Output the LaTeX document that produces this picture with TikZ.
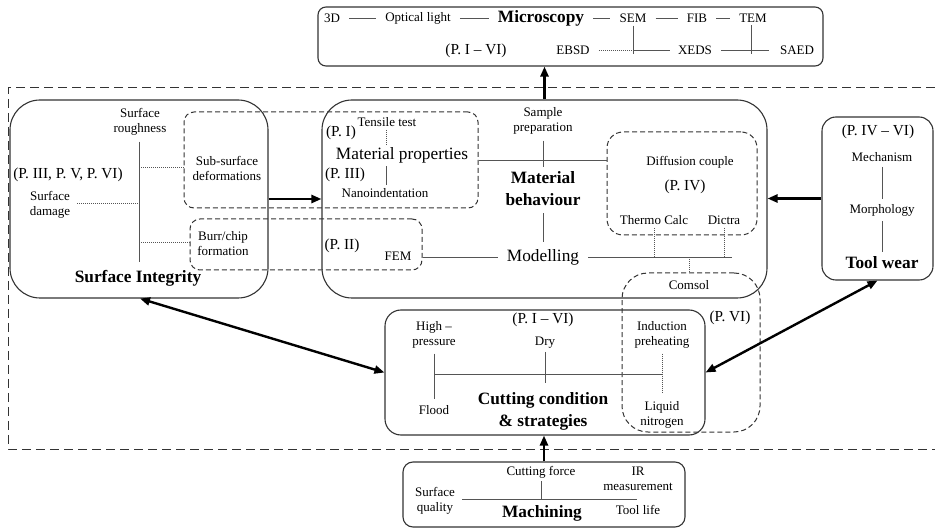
\documentclass[tikz,border=0pt]{standalone}
\usepackage{fontspec}
\setmainfont{Liberation Serif}
\usetikzlibrary{arrows.meta}
\definecolor{boxc}{HTML}{333333}
\definecolor{linec}{HTML}{555555}
\newcommand{\smf}{\fontsize{13}{15}\selectfont}
\newcommand{\plf}{\fontsize{15.3}{17}\selectfont}
\newcommand{\mdf}{\fontsize{17.3}{20}\selectfont}
\newcommand{\bgf}{\fontsize{17.3}{22}\selectfont\bfseries}
\tikzset{
  box/.style={draw=boxc, line width=1.1pt, rounded corners=#1, inner sep=0pt},
  dbox/.style={draw=boxc, line width=1pt, dash pattern=on 5pt off 3pt, rounded corners=#1, inner sep=0pt},
  txt/.style={font=\smf, align=center, inner sep=3pt, text=black},
  ptxt/.style={font=\plf, align=center, inner sep=3pt, text=black},
  mtxt/.style={font=\mdf, align=center, inner sep=3pt, text=black},
  btxt/.style={font=\bgf, align=center, inner sep=3pt, text=black},
  conn/.style={draw=linec, line width=0.8pt},
  gapc/.style={draw=linec, line width=0.8pt, shorten <=6pt, shorten >=6pt},
  dotc/.style={draw=linec, line width=0.8pt, dash pattern=on 1pt off 1pt},
  arr/.style={line width=2.4pt, -{Triangle[length=10pt,width=8pt]}},
  darr/.style={line width=2.4pt, {Triangle[length=10pt,width=8pt]}-{Triangle[length=10pt,width=8pt]}},
}
\begin{document}
\begin{tikzpicture}[x=1pt,y=-1pt]
\useasboundingbox (0,0) rectangle (935,529);
% outer dashed frame
\draw[draw=boxc, line width=1pt, dash pattern=on 9pt off 5pt] (935,88) -- (8,88) -- (8,449) -- (935,449);

% solid boxes
\node[box=8pt, minimum width=505pt, minimum height=59pt] (micro) at (570.5,36.5) {};
\node[box=30pt, minimum width=258pt, minimum height=198pt] (si) at (139,199) {};
\node[box=30pt, minimum width=445pt, minimum height=198pt] (mb) at (544.5,199) {};
\node[box=14pt, minimum width=111pt, minimum height=163pt] (tw) at (877.5,198.5) {};
\node[box=16pt, minimum width=320pt, minimum height=125pt] (cut) at (545,372.5) {};
\node[box=10pt, minimum width=282pt, minimum height=65pt] (mach) at (544,494.5) {};

% dashed boxes
\node[dbox=10pt, minimum width=294pt, minimum height=96pt] (matprop) at (331,160) {};
\node[dbox=10pt, minimum width=232pt, minimum height=51pt] (burr) at (306,244.5) {};
\node[dbox=16pt, minimum width=150pt, minimum height=103pt] (diff) at (682,183.5) {};
\node[dbox=26pt, minimum width=138pt, minimum height=159pt] (comsol) at (691,352.5) {};

% Microscopy
\node[txt] (m3d) at (332,18) {3D};
\node[txt] (mopt) at (418,18) {Optical light};
\node[btxt] (mmic) at (541,18) {Microscopy};
\node[txt] (msem) at (633,18) {SEM};
\node[txt] (mfib) at (697,18) {FIB};
\node[txt] (mtem) at (753,18) {TEM};
\node[ptxt] (mpl) at (476,51) {(P. I -- VI)};
\node[txt] (mebsd) at (573,50) {EBSD};
\node[txt] (mxeds) at (695,50) {XEDS};
\node[txt] (msaed) at (797,50) {SAED};
\draw[gapc] (m3d.east) -- (mopt.west);
\draw[gapc] (mopt.east) -- (mmic.west);
\draw[gapc] (mmic.east) -- (msem.west);
\draw[gapc] (msem.east) -- (mfib.west);
\draw[gapc] (mfib.east) -- (mtem.west);
\draw[conn] (msem.south) -- ([yshift=-4pt]msem.south |- mxeds.center);
\draw[dotc, shorten <=6pt] (mebsd.east) -- (msem.south |- mxeds.center);
\draw[conn, shorten >=5pt] (msem.south |- mxeds.center) -- (mxeds.west);
\draw[conn] ([xshift=-2pt]mtem.south) -- ([xshift=-2pt,yshift=-4pt]mtem.south |- msaed.center);
\draw[conn, shorten <=6pt, shorten >=8pt] (mxeds.east) -- (msaed.west);

% Surface Integrity
\node[txt] (sr) at (140,122) {Surface\\roughness};
\node[ptxt] (sp) at (68,175) {(P. III, P. V, P. VI)};
\node[txt] (sd) at (50,205) {Surface\\damage};
\node[txt] (ssd) at (227,168) {Sub-surface\\deformations};
\node[txt] (sbc) at (223,244) {Burr/chip\\formation};
\node[btxt] (sit) at (138,278) {Surface Integrity};
\coordinate (ssbot) at (139,262);
\coordinate (s1) at (139,167);
\coordinate (s2) at (139,203);
\coordinate (s3) at (139,242);
\draw[conn] ([yshift=-3pt]sr.south -| ssbot) -- (ssbot);
\draw[dotc] (s1) -- (matprop.west |- s1);
\draw[dotc, shorten <=4pt] (sd.east |- s2) -- (s2);
\draw[dotc] (s3) -- (burr.west |- s3);

% Material behaviour
\node[ptxt] (mp1) at (341,133) {(P. I)};
\node[txt] (mtt) at (387,122) {Tensile test};
\node[mtxt] (mmp) at (402,155) {Material properties};
\node[ptxt] (mp3) at (345,175) {(P. III)};
\node[txt] (mnano) at (385,193) {Nanoindentation};
\node[txt] (msp) at (543,121) {Sample\\preparation};
\node[btxt] (mbeh) at (543,189) {Material\\behaviour};
\node[mtxt] (mmod) at (543,257) {Modelling};
\node[ptxt] (mp2) at (342,246) {(P. II)};
\node[txt] (mfem) at (398,256) {FEM};
\node[txt] (mdc) at (690,162) {Diffusion couple};
\node[ptxt] (mp4) at (685,187) {(P. IV)};
\node[txt] (mthc) at (654,220) {Thermo Calc};
\node[txt] (mdic) at (724,220) {Dictra};
\node[txt] (mcom) at (689,285) {Comsol};
\coordinate (mend) at (732,257);
\draw[dotc] (mtt.south -| 386,0) -- (mmp.north -| 386,0);
\draw[conn] (mmp.south -| 386,0) -- (mnano.north -| 386,0);
\draw[conn] (matprop.east) -- (diff.west |- matprop.east);
\draw[conn] ([yshift=-3pt]msp.south) -- ++(0,26);
\draw[conn, shorten <=4pt, shorten >=4pt] (mbeh.south) -- (mmod.north);
\draw[conn, shorten >=6pt] (burr.east |- mmod) -- (mmod.west);
\draw[conn, shorten <=6pt] (mmod.east) -- (mend);
\draw[dotc] (mthc.south) -- (mthc.south |- mend);
\draw[dotc] (mdic.south) -- (mdic.south |- mend);
\draw[dotc] (mcom |- mend) -- (mcom |- comsol.north);

% Tool wear
\node[ptxt] (twp) at (878,132) {(P. IV -- VI)};
\node[txt] (twm) at (882,157) {Mechanism};
\node[txt] (twmo) at (882,210) {Morphology};
\node[btxt] (twt) at (882,263) {Tool wear};
\draw[conn, shorten <=2pt, shorten >=2pt] (twm.south) -- (twmo.north);
\draw[conn, shorten <=2pt, shorten >=2pt] (twmo.south) -- (twt.north);

% Cutting condition
\node[ptxt] (cp) at (543,320) {(P. I -- VI)};
\node[txt] (chp) at (434,335) {High --\\pressure};
\node[txt] (cdry) at (545,343) {Dry};
\node[txt] (cind) at (662,335) {Induction\\preheating};
\node[txt] (cfl) at (434,410) {Flood};
\node[btxt] (ccut) at (543,411) {Cutting condition\\\& strategies};
\node[txt] (cln) at (662,415) {Liquid\\nitrogen};
\node[ptxt] (cp6) at (730,318) {(P. VI)};
\coordinate (chl) at (434,374);
\coordinate (chr) at (663,374);
\draw[conn, shorten <=2pt, shorten >=3pt] (chp.south) -- (cfl.north);
\draw[conn] (chl) -- (chr);
\draw[conn] (cdry.south) -- ++(0,31);
\draw[dotc, shorten <=2pt, shorten >=5pt] (cind.south) -- (cln.north);

% Machining
\node[txt] (mcf) at (541,472) {Cutting force};
\node[txt] (mir) at (638,479) {IR\\measurement};
\node[txt] (msq) at (435,501) {Surface\\quality};
\node[btxt] (mmach) at (542,513) {Machining};
\node[txt] (mtl) at (638,510) {Tool life};
\coordinate (mhl) at (462,499);
\coordinate (mhr) at (637,499);
\draw[conn] (mcf.south) -- (mcf.south |- mhl);
\draw[conn] (mhl) -- (mhr);

% thick arrows
\draw[arr] (mb.north) -- (micro.south -| mb.north);
\draw[arr] (si.east) -- (mb.west);
\draw[arr] (tw.west) -- (mb.east |- tw.west);
\draw[darr] ([xshift=1pt]si.south) -- (cut.west);
\draw[darr] (tw.south) -- (cut.east);
\draw[arr] (mach.north) -- (cut.south -| mach.north);
\end{tikzpicture}
\end{document}
